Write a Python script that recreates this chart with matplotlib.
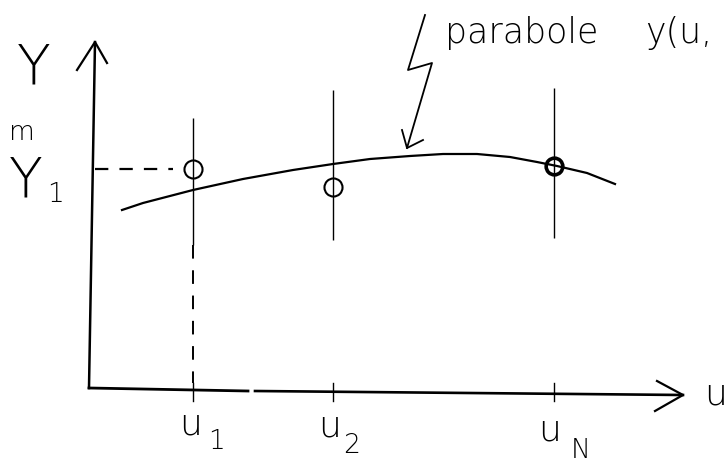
import numpy as np
import matplotlib.pyplot as plt

# abscissae of the measurements and the measured values
u_pts = [1.04, 2.44, 4.65]
y_meas = [2.19, 2.01, 2.22]
# extent of the vertical lines through each measurement
bar_top = [2.70, 2.98, 3.00]
bar_bot = [1.43, 1.48, 1.50]
u_labels = ['1', '2', 'N']

# fitted parabola y(u), sampled along the curve
u_curve = [0.33, 0.54, 1.04, 1.54, 2.04, 2.44, 2.81, 3.21, 3.54, 3.88,
           4.21, 4.48, 4.68, 4.98, 5.26]
y_curve = [1.78, 1.85, 1.98, 2.09, 2.18, 2.24, 2.29, 2.32, 2.34, 2.34,
           2.31, 2.26, 2.22, 2.15, 2.04]

fig = plt.figure(figsize=(7.27, 4.61), dpi=100)
ax = fig.add_axes([0, 0, 1, 1])
ax.set_xlim(-0.89, 6.38)
ax.set_ylim(-0.73, 3.88)
ax.axis('off')

k = 'black'

# axes drawn by hand: y axis with open arrowhead
ax.plot([0, 0.06], [0, 3.46], color=k, lw=1.8)
ax.plot([-0.12, 0.06, 0.18], [3.18, 3.46, 3.25], color=k, lw=1.6)
# u axis, with the small break after u1
ax.plot([0, 1.59], [0, -0.03], color=k, lw=2.0)
ax.plot([1.66, 5.94], [-0.03, -0.07], color=k, lw=1.9)
ax.plot([5.68, 5.94, 5.66], [0.07, -0.07, -0.23], color=k, lw=1.6)

# tick marks under each u_i
for u in u_pts:
    ax.plot([u, u], [0.05, -0.13], color=k, lw=1.0)

# vertical lines through the measurements
ax.vlines(u_pts, bar_bot, bar_top, color=k, lw=1.0)

# dashed projections of the first measurement onto both axes
ax.plot([0.06, 0.84], [y_meas[0], y_meas[0]], color=k, lw=1.6, ls=(0, (6, 5)))
ax.plot([u_pts[0], u_pts[0]], [bar_bot[0], 0.05], color=k, lw=1.4, ls=(0, (7, 6)))

# the parabola
ax.plot(u_curve, y_curve, color=k, lw=1.6, solid_joinstyle='round')

# measured points
ax.plot(u_pts[:2], y_meas[:2], 'o', ms=13, mfc='none', mec=k, mew=1.5)
ax.plot(u_pts[2:], y_meas[2:], 'o', ms=12, mfc='none', mec=k, mew=2.6)

# zig-zag pointer to the curve
ax.plot([3.36, 3.19, 3.43, 3.18], [3.73, 3.18, 3.25, 2.40], color=k, lw=1.3)
ax.plot([3.13, 3.18, 3.34], [2.58, 2.40, 2.48], color=k, lw=1.3)

txt = dict(color=k, fontweight='light', family='DejaVu Sans')

ax.text(-0.55, 3.19, 'Y', fontsize=40, ha='center', va='center', **txt)
ax.text(-0.67, 2.55, 'm', fontsize=19, ha='center', va='center', **txt)
ax.text(-0.63, 2.06, 'Y', fontsize=40, ha='center', va='center', **txt)
ax.text(-0.34, 1.93, '1', fontsize=19, ha='center', va='center', **txt)

label_u = [(1.02, -0.36), (2.41, -0.38), (4.61, -0.42)]
label_sub = [(1.27, -0.53), (2.63, -0.57), (4.92, -0.62)]
for (xu, yu), (xs, ys), s in zip(label_u, label_sub, u_labels):
    ax.text(xu, yu, 'u', fontsize=26, ha='center', va='center', **txt)
    ax.text(xs, ys, s, fontsize=19, ha='center', va='center', **txt)

ax.text(6.15, -0.06, 'u', fontsize=26, ha='left', va='center', **txt)

ax.text(3.56, 3.45, 'parabole', fontsize=25, ha='left', va='baseline', **txt)
ax.text(5.56, 3.45, 'y(u,', fontsize=25, ha='left', va='baseline', **txt)

plt.savefig('out.png', dpi=100)
